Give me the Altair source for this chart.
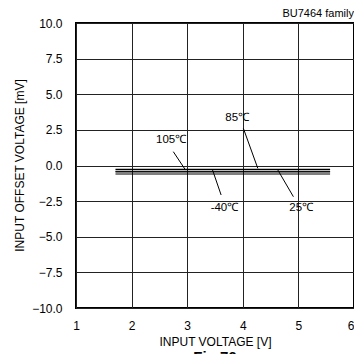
import altair as alt
import pandas as pd

# Data
voltage = [1.71, 2.0, 3.0, 4.0, 5.0, 5.57]
offset_85 = [-0.27, -0.27, -0.27, -0.27, -0.27, -0.27]
offset_105 = [-0.40, -0.40, -0.40, -0.40, -0.40, -0.40]
offset_25 = [-0.45, -0.45, -0.45, -0.45, -0.45, -0.45]
offset_m40 = [-0.60, -0.60, -0.60, -0.60, -0.60, -0.60]
series_names = ["85℃", "105℃", "25℃", "-40℃"]

label_text = ["85℃", "105℃", "-40℃", "25℃"]
label_x = [3.90, 2.71, 3.67, 5.05]
label_y = [3.33, 1.79, -3.0, -3.0]
leader_x1 = [4.01, 2.75, 3.45, 4.62]
leader_y1 = [2.61, 0.97, -0.25, -0.25]
leader_x2 = [4.27, 2.97, 3.61, 4.91]
leader_y2 = [-0.20, -0.32, -2.07, -2.19]

x_ticks = [1, 2, 3, 4, 5, 6]
y_ticks = [-10, -7.5, -5, -2.5, 0, 2.5, 5, 7.5, 10]

rows = []
for name, vals in zip(series_names, [offset_85, offset_105, offset_25, offset_m40]):
    for v, o in zip(voltage, vals):
        rows.append({"series": name, "v": v, "o": o})
df = pd.DataFrame(rows)

labels = pd.DataFrame({"t": label_text, "x": label_x, "y": label_y})
leaders = pd.DataFrame({"x": leader_x1, "y": leader_y1, "x2": leader_x2, "y2": leader_y2})
notes = pd.DataFrame({"t": ["BU7464 family", "Fig.76"], "x": [6.0, 3.5], "y": [10.6, -12.95]})

FONT = "Liberation Sans"

xscale = alt.Scale(domain=[1, 6], nice=False, zero=False)
yscale = alt.Scale(domain=[-10, 10], nice=False, zero=False)

xaxis = alt.Axis(values=x_ticks, format="d", title="INPUT VOLTAGE [V]", grid=True,
                 gridColor="#222222", gridWidth=1, domain=False, ticks=False,
                 labelPadding=12, labelFontSize=12, labelFont=FONT, labelColor="black",
                 labelAlign={"condition": {"test": "datum.value == 6", "value": "right"}, "value": "center"},
                 titleFont=FONT, titleFontSize=12, titleFontWeight="normal", titleColor="black",
                 titleY=33, titleBaseline="middle", labelFlush=False, labelOverlap=False)
yaxis = alt.Axis(values=y_ticks, format=".1f", title="INPUT OFFSET VOLTAGE [mV]", grid=True,
                 gridColor="#222222", gridWidth=1, domain=False, ticks=False,
                 labelPadding=14, labelFontSize=12, labelFont=FONT, labelColor="black",
                 titleFont=FONT, titleFontSize=12, titleFontWeight="normal", titleColor="black",
                 titleX=-57, titleY=142, titleAngle=-90, titleAlign="center",
                 titleBaseline="middle", labelFlush=False, labelOverlap=False)

X = lambda f: alt.X(f, scale=xscale, axis=xaxis)
Y = lambda f: alt.Y(f, scale=yscale, axis=yaxis)

lines = alt.Chart(df).mark_line(color="black", strokeWidth=1.1).encode(
    x=X("v:Q"), y=Y("o:Q"), detail="series:N",
)

lead = alt.Chart(leaders).mark_rule(color="black", strokeWidth=1).encode(
    x=X("x:Q"), y=Y("y:Q"), x2="x2:Q", y2="y2:Q"
)

txt = alt.Chart(labels).mark_text(font=FONT, fontSize=11.5, color="black").encode(
    x=X("x:Q"), y=Y("y:Q"), text="t:N"
)

note1 = alt.Chart(notes.iloc[[0]]).mark_text(font=FONT, fontSize=11, color="black", align="right").encode(
    x=X("x:Q"), y=Y("y:Q"), text="t:N"
)
note2 = alt.Chart(notes.iloc[[1]]).mark_text(font=FONT, fontSize=15, fontWeight="bold", color="black",
                                             baseline="top").encode(
    x=X("x:Q"), y=Y("y:Q"), text="t:N"
)

chart = alt.layer(lines, lead, txt, note1, note2).properties(
    width=278, height=285,
    autosize=alt.AutoSizeParams(type="none"),
    padding={"left": 68, "top": 15, "right": 0, "bottom": 46},
    background="white",
).configure_view(stroke="black", strokeWidth=2)

chart.save("out.html", embed_options={"renderer": "svg", "actions": False})
